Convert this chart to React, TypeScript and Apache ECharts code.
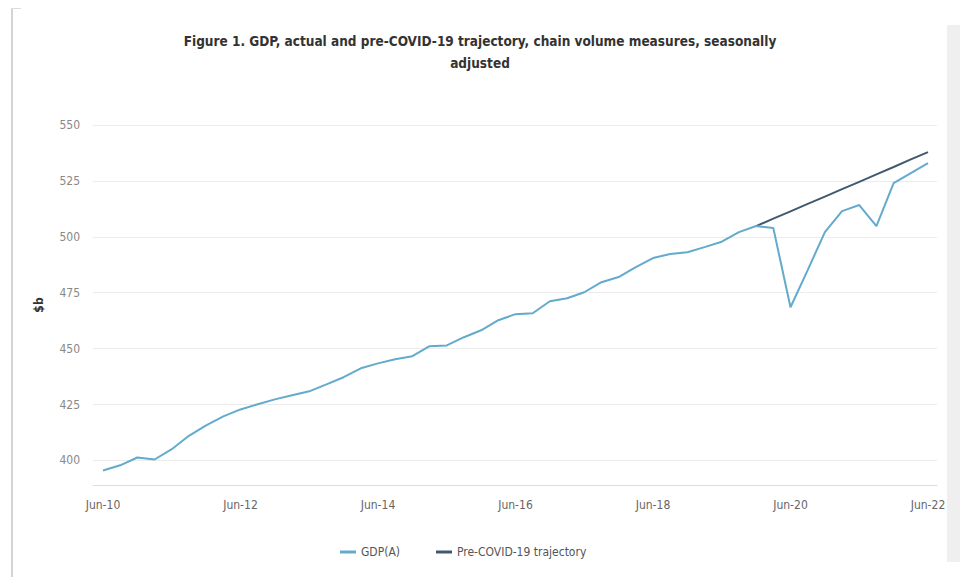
import React, { useEffect, useRef } from "react";
import * as echarts from "echarts";

const quarters: string[] = [];
const monthNames = ["Mar", "Jun", "Sep", "Dec"];
// categories Jun-10 .. Jun-22 (quarterly)
const yearsList = ["10", "11", "12", "13", "14", "15", "16", "17", "18", "19", "20", "21", "22"];
for (let y = 0; y < yearsList.length; y++) {
  for (let m = 0; m < 4; m++) {
    if (y === 0 && m === 0) continue;
    if (y === yearsList.length - 1 && m > 1) continue;
    quarters.push(monthNames[m] + "-" + yearsList[y]);
  }
}

const gdpActual = [
  395.5, 397.8, 401.3, 400.4, 405.0, 411.0, 415.7, 419.7, 422.8, 425.1,
  427.3, 429.1, 430.9, 434.0, 437.2, 441.2, 443.4, 445.2, 446.6, 451.1,
  451.4, 455.1, 458.2, 462.7, 465.4, 465.8, 471.2, 472.5, 475.2, 479.7,
  482.0, 486.4, 490.5, 492.3, 493.1, 495.4, 497.8, 502.1, 504.8, 503.9,
  468.5, 485.1, 502.1, 511.5, 514.2, 504.8, 524.0, 528.5, 533.0,
];

const preCovidTrajectory = [
  null, null, null, null, null, null, null, null, null, null,
  null, null, null, null, null, null, null, null, null, null,
  null, null, null, null, null, null, null, null, null, null,
  null, null, null, null, null, null, null, null, 504.8, 508.1,
  511.4, 514.7, 518.0, 521.3, 524.6, 527.9, 531.2, 534.6, 537.9,
];

const yTicks = [400, 425, 450, 475, 500, 525, 550];

const titleText =
  "Figure 1. GDP, actual and pre-COVID-19 trajectory, chain volume measures, seasonally\nadjusted";

const FONT = "'Liberation Sans Narrow', 'DejaVu Sans Condensed', 'Noto Sans', sans-serif";

export default function App() {
  const ref = useRef<HTMLDivElement>(null);
  useEffect(() => {
    document.body.style.margin = "0";
    if (!ref.current) return;
    const chart = echarts.init(ref.current, null, { renderer: "svg" });
    chart.setOption({
      animation: false,
      backgroundColor: "#ffffff",
      title: {
        text: titleText,
        left: "center",
        top: 25,
        textStyle: {
          fontFamily: FONT,
          fontSize: 13.5,
          fontWeight: "bold",
          color: "#333333",
          lineHeight: 22,
        },
      },
      legend: {
        bottom: 14,
        left: 335,
        itemGap: 36,
        itemWidth: 16,
        itemHeight: 3,
        icon: "rect",
        textStyle: { fontFamily: FONT, fontSize: 12, color: "#555555" },
        data: ["GDP(A)", "Pre-COVID-19 trajectory"],
      },
      graphic: [
        { type: "rect", shape: { x: 11, y: 9, width: 2, height: 568 }, style: { fill: "#d4d4d4" } },
        { type: "rect", shape: { x: 11, y: 8, width: 10, height: 1 }, style: { fill: "#dddddd" } },
        { type: "rect", shape: { x: 947, y: 25, width: 13, height: 537 }, style: { fill: "#efefef" } },
      ],
      grid: [
        { left: 93, right: 23, top: 125, bottom: 92 },
        { left: 103, right: 32, top: 125, bottom: 92 },
      ],
      xAxis: [
        {
          gridIndex: 0,
          type: "value",
          min: 0,
          max: 1,
          axisLine: { show: true, lineStyle: { color: "#dcdcdc", width: 1 } },
          axisTick: { show: false },
          axisLabel: { show: false },
          splitLine: { show: false },
        },
        {
          gridIndex: 1,
          type: "category",
          data: quarters,
          boundaryGap: false,
          axisLine: { show: false },
          axisTick: { show: false },
          splitLine: { show: false },
          axisLabel: {
            interval: 7,
            margin: 14,
            color: "#666666",
            fontFamily: FONT,
            fontSize: 12,
          },
        },
      ],
      yAxis: [
        {
          gridIndex: 0,
          type: "value",
          min: 389,
          max: 550,
          name: "$b",
          nameLocation: "middle",
          nameGap: 48,
          nameRotate: 90,
          nameTextStyle: { fontFamily: FONT, fontSize: 12, fontWeight: "bold", color: "#333333" },
          axisLine: { show: false },
          axisTick: { show: false, customValues: yTicks },
          axisLabel: { customValues: yTicks, margin: 13, color: "#888888", fontFamily: FONT, fontSize: 12 },
          splitLine: { show: true, lineStyle: { color: "#ececec", width: 1 } },
        },
        {
          gridIndex: 1,
          type: "value",
          min: 389,
          max: 550,
          show: false,
          splitLine: { show: false },
        },
      ],
      series: [
        {
          name: "GDP(A)",
          type: "line",
          xAxisIndex: 1,
          yAxisIndex: 1,
          data: gdpActual,
          showSymbol: false,
          symbol: "none",
          lineStyle: { color: "#63aacd", width: 2 },
          itemStyle: { color: "#63aacd" },
          z: 3,
        },
        {
          name: "Pre-COVID-19 trajectory",
          type: "line",
          xAxisIndex: 1,
          yAxisIndex: 1,
          data: preCovidTrajectory,
          showSymbol: false,
          symbol: "none",
          lineStyle: { color: "#3f5a70", width: 2 },
          itemStyle: { color: "#3f5a70" },
          z: 2,
        },
      ],
    });
    return () => chart.dispose();
  }, []);
  return <div ref={ref} style={{ width: 960, height: 577 }} />;
}
